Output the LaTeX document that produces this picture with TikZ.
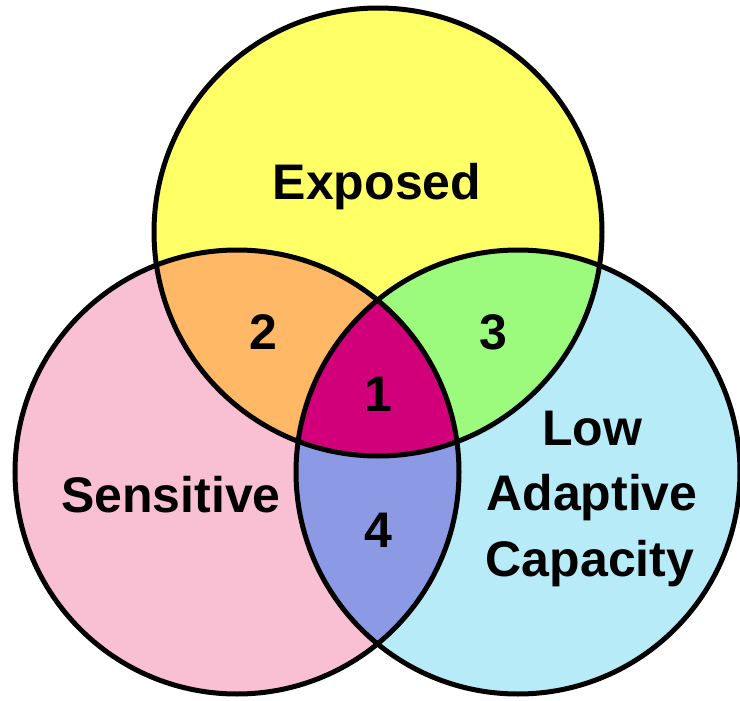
\documentclass[tikz,border=0pt]{standalone}
\usepackage{fontspec}
\setmainfont{Liberation Sans}
\definecolor{cyellow}{HTML}{FFFF66}
\definecolor{cpink}{HTML}{F9BFD2}
\definecolor{cblue}{HTML}{B7EBF8}
\definecolor{corange}{HTML}{FFB865}
\definecolor{cgreen}{HTML}{9CFA7C}
\definecolor{cpurple}{HTML}{8C9AE5}
\definecolor{cmagenta}{HTML}{D1007A}
\begin{document}
\begin{tikzpicture}[x=1pt,y=-1pt,
  outline/.style={draw=black,line width=5pt},
  lbl/.style={font=\fontsize{50}{66}\selectfont\bfseries,anchor=base,inner sep=0pt,text=black}]
\useasboundingbox (0,0) rectangle (740,701);
\def\T{(378,232) circle[radius=224]}
\def\L{(237,472) circle[radius=222]}
\def\R{(518,472) circle[radius=222]}
% base fills
\fill[cpink] \L;
\fill[cblue] \R;
\fill[cyellow] \T;
% pairwise intersections
\begin{scope}\clip \T; \fill[corange] \L; \end{scope}
\begin{scope}\clip \T; \fill[cgreen] \R; \end{scope}
\begin{scope}\clip \L; \fill[cpurple] \R; \end{scope}
% triple intersection
\begin{scope}\clip \T; \clip \L; \fill[cmagenta] \R; \end{scope}
% outlines
\draw[outline] \T;
\draw[outline] \L;
\draw[outline] \R;
% labels
\node[lbl] (exposed) at (377,200) {Exposed};
\node[lbl] (sensitive) at (171,512) {Sensitive};
\node[lbl] (low) at (592,445) {Low};
\node[lbl] (adaptive) at (592,510) {Adaptive};
\node[lbl] (capacity) at (590,576) {Capacity};
\node[lbl] (n1) at (378,411) {1};
\node[lbl] (n2) at (263,349) {2};
\node[lbl] (n3) at (493,349) {3};
\node[lbl] (n4) at (378,547) {4};
\end{tikzpicture}
\end{document}
